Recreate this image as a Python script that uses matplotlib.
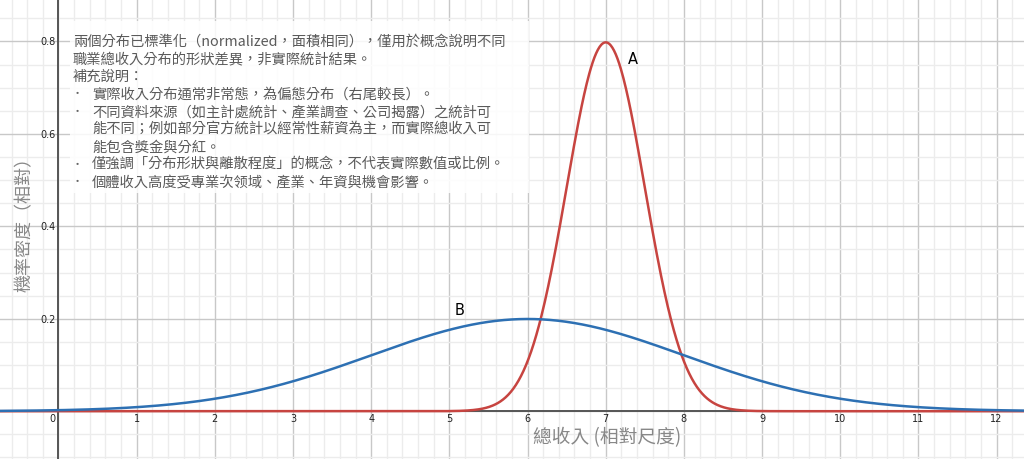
import numpy as np
import matplotlib
matplotlib.use("Agg")
import matplotlib.pyplot as plt
from matplotlib.patches import Rectangle

plt.rcParams['font.family'] = ['Noto Sans CJK TC', 'DejaVu Sans']

# two normalized curves: A (narrow) and B (wide)
curve_names = ['A', 'B']
curve_means = [7.0, 6.0]
curve_sigmas = [0.5, 2.0]
curve_colors = ['#c74440', '#2d70b3']
name_pos = [(7.35, 0.763), (5.13, 0.219)]

x_ticks = list(range(0, 13))
y_ticks = [0.2, 0.4, 0.6, 0.8]

note_lines = [
    ('', '兩個分布已標準化（normalized，面積相同），僅用於概念說明不同'),
    ('', '職業總收入分布的形狀差異，非實際統計結果。'),
    ('', '補充說明：'),
    ('•', '實際收入分布通常非常態，為偏態分布（右尾較長）。'),
    ('•', '不同資料來源（如主計處統計、產業調查、公司揭露）之統計可'),
    (' ', '能不同；例如部分官方統計以經常性薪資為主，而實際總收入可'),
    (' ', '能包含獎金與分紅。'),
    ('•', '僅強調「分布形狀與離散程度」的概念，不代表實際數值或比例。'),
    ('•', '個體收入高度受專業次领域、產業、年資與機會影響。'),
]

fig = plt.figure(figsize=(10.24, 4.6), dpi=100)
ax = fig.add_axes([0, 0, 1, 1])
xmin, xmax = -0.748, 12.35
ymin, ymax = -0.1034, 0.8917
ax.set_xlim(xmin, xmax)
ax.set_ylim(ymin, ymax)
for s in ax.spines.values():
    s.set_visible(False)
ax.set_xticks([])
ax.set_yticks([])

# grid
for gx in np.arange(-0.6, 12.4, 0.2):
    major = abs(gx - round(gx)) < 1e-6
    ax.axvline(gx, color='#c8c8c8' if major else '#ececec', lw=1.0, zorder=0)
for gy in np.arange(-0.1, 0.9, 0.05):
    major = abs(gy / 0.2 - round(gy / 0.2)) < 1e-6
    ax.axhline(gy, color='#c8c8c8' if major else '#ececec', lw=1.0, zorder=0)
ax.axhline(0, color='#555555', lw=1.4, zorder=1)
ax.axvline(0, color='#555555', lw=1.4, zorder=1)

# tick labels
for t in x_ticks:
    dx = -6 if t == 0 else 0
    ax.annotate(str(t), (t, 0), xytext=(dx, -7), textcoords='offset pixels',
                ha='center', va='center', fontsize=7, color='#222222',
                family='DejaVu Sans', zorder=2)
for t in y_ticks:
    ax.annotate(str(t), (0, t), xytext=(-3, 0), textcoords='offset pixels',
                ha='right', va='center', fontsize=7, color='#222222',
                family='DejaVu Sans', zorder=2)

# note box
ax.add_patch(Rectangle((70 / 1024, 1 - 194 / 460), 459 / 1024, 172 / 460,
                       transform=ax.transAxes, facecolor='white', alpha=0.85,
                       edgecolor='none', zorder=2))
for i, (bullet, line) in enumerate(note_lines):
    py = 41.7 + i * 17.6
    yf = 1 - py / 460
    if bullet == '':
        ax.text(73 / 1024, yf, line, transform=ax.transAxes, va='center', ha='left',
                fontsize=10.3, color='#5a5a5a', zorder=3)
    else:
        if bullet.strip():
            ax.text(77 / 1024, yf, bullet, transform=ax.transAxes, va='center', ha='center',
                    fontsize=8, color='#666666', zorder=3)
        ax.text(92 / 1024, yf, line, transform=ax.transAxes, va='center', ha='left',
                fontsize=10.3, color='#5a5a5a', zorder=3)

# curves
xs = np.linspace(xmin, xmax, 1200)
for name, mu, sig, col, (lx, ly) in zip(curve_names, curve_means, curve_sigmas,
                                         curve_colors, name_pos):
    ys = np.exp(-0.5 * ((xs - mu) / sig) ** 2) / (sig * np.sqrt(2 * np.pi))
    ax.plot(xs, ys, color=col, lw=1.8, zorder=4)
    ax.text(lx, ly, name, fontsize=10.5, color='black', ha='center', va='center',
            family='DejaVu Sans', zorder=5)

# axis titles
ax.text(607 / 1024, 1 - 438 / 460, '總收入 (相對尺度)', transform=ax.transAxes,
        ha='center', va='center', fontsize=13.5, color='#888888', zorder=5)
ax.text(25 / 1024, 1 - 220 / 460, '機率密度（相對）', transform=ax.transAxes,
        ha='center', va='center', rotation=90, fontsize=13, color='#888888', zorder=5)

fig.savefig('out.png', dpi=100)
